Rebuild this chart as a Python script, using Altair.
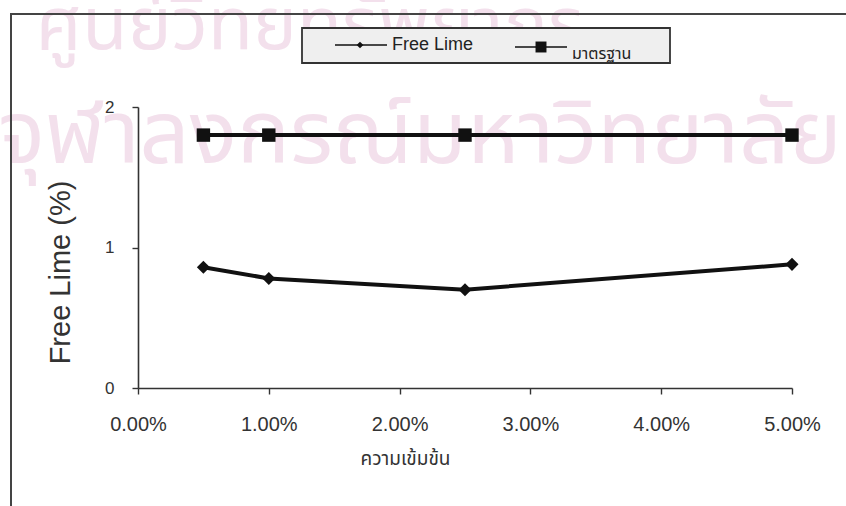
import altair as alt
import pandas as pd

# Concentration (fraction) and measured values
concentration = [0.005, 0.01, 0.025, 0.05]
free_lime = [0.86, 0.78, 0.70, 0.88]
standard = [1.80, 1.80, 1.80, 1.80]
series_names = ["Free Lime", "มาตรฐาน"]
x_ticks = [0.0, 0.01, 0.02, 0.03, 0.04, 0.05]
y_ticks = [0.0, 1.0, 2.0]

THAI = "Noto Sans Thai, Noto Sans Thai UI, Garuda, Loma, Norasi, Tlwg Typo, sans-serif"
SANS = "Liberation Sans, Arial, sans-serif"

df = pd.DataFrame(
    {
        "conc": concentration * 2,
        "value": free_lime + standard,
        "series": [series_names[0]] * len(concentration)
        + [series_names[1]] * len(concentration),
    }
)

W, H = 654, 281

x_scale = alt.Scale(domain=[0, 0.05], nice=False, zero=False)
y_scale = alt.Scale(domain=[0, 2], nice=False)

x_axis = alt.Axis(
    values=x_ticks,
    format=".2%",
    title="ความเข้มข้น",
    titleFont=THAI,
    titleFontSize=19,
    titleX=267,
    titleY=76,
    titleBaseline="alphabetic",
    titleAlign="center",
    labelFontSize=20,
    labelPadding=20,
    labelFlush=False,
)
y_axis = alt.Axis(
    values=y_ticks,
    format=".0f",
    title="Free Lime (%)",
    titleFontSize=29,
    titleAngle=270,
    titleX=-78,
    titleY=165,
    titleAlign="center",
    titleBaseline="middle",
    labelFontSize=17,
    labelPadding=18,
)

base = alt.Chart(df)

lines = base.mark_line(color="#111", strokeWidth=4).encode(
    x=alt.X("conc:Q", scale=x_scale, axis=x_axis),
    y=alt.Y("value:Q", scale=y_scale, axis=y_axis),
    detail="series:N",
)
points = base.mark_point(filled=True, color="#111", opacity=1).encode(
    x=alt.X("conc:Q", scale=x_scale, axis=x_axis),
    y=alt.Y("value:Q", scale=y_scale, axis=y_axis),
    shape=alt.Shape(
        "series:N",
        scale=alt.Scale(domain=series_names, range=["diamond", "square"]),
        legend=None,
    ),
    size=alt.Size(
        "series:N",
        scale=alt.Scale(domain=series_names, range=[170, 180]),
        legend=None,
    ),
)

# Faint library watermark behind the plot
wm_lines = ["ศูนย์วิทยทรัพยากร", "จุฬาลงกรณ์มหาวิทยาลัย"]
wm_df = pd.DataFrame({"t": wm_lines})
wm_top = alt.Chart(wm_df).transform_filter(alt.datum.t == wm_lines[0]).mark_text(
    font=THAI, fontSize=74, color="#f3e0ec", align="center", baseline="alphabetic"
).encode(text="t:N", x=alt.value(172), y=alt.value(-58))
wm_bottom = alt.Chart(wm_df).transform_filter(alt.datum.t == wm_lines[1]).mark_text(
    font=THAI, fontSize=88, color="#f3e0ec", align="center", baseline="alphabetic"
).encode(text="t:N", x=alt.value(282), y=alt.value(56))

# Outer chart frame
frame = alt.Chart(wm_df).transform_filter(alt.datum.t == wm_lines[0]).mark_rect(
    fillOpacity=0, stroke="#444", strokeWidth=2
).encode(x=alt.value(-127), x2=alt.value(740), y=alt.value(-93), y2=alt.value(430))

# Legend box and entries
leg_df = pd.DataFrame({"series": series_names})
leg1 = alt.Chart(leg_df).transform_filter(alt.datum.series == series_names[0])
leg2 = alt.Chart(leg_df).transform_filter(alt.datum.series == series_names[1])

leg_box = leg1.mark_rect(fill="#efefef", stroke="#333", strokeWidth=1.8).encode(
    x=alt.value(164), x2=alt.value(532), y=alt.value(-79), y2=alt.value(-44)
)
leg1_rule = leg1.mark_rule(color="#111", strokeWidth=1.6).encode(
    x=alt.value(197), x2=alt.value(249), y=alt.value(-62)
)
leg1_sym = leg1.mark_point(shape="diamond", filled=True, color="#111", size=45, opacity=1).encode(
    x=alt.value(222), y=alt.value(-62)
)
leg1_txt = leg1.mark_text(
    font=SANS, fontSize=18, color="#222", align="left", baseline="middle"
).encode(text="series:N", x=alt.value(254), y=alt.value(-62))
leg2_rule = leg2.mark_rule(color="#111", strokeWidth=1.6).encode(
    x=alt.value(377), x2=alt.value(429), y=alt.value(-60)
)
leg2_sym = leg2.mark_point(shape="square", filled=True, color="#111", size=120, opacity=1).encode(
    x=alt.value(403), y=alt.value(-60)
)
leg2_txt = leg2.mark_text(
    font=THAI, fontSize=16, color="#222", align="left", baseline="alphabetic"
).encode(text="series:N", x=alt.value(434), y=alt.value(-48))

chart = (
    alt.layer(
        wm_top,
        wm_bottom,
        frame,
        lines,
        points,
        leg_box,
        leg1_rule,
        leg1_sym,
        leg1_txt,
        leg2_rule,
        leg2_sym,
        leg2_txt,
    )
    .properties(
        width=W,
        height=H,
        padding={"left": 138, "top": 107, "right": 54, "bottom": 118},
        autosize="none",
        background="white",
    )
    .configure_view(stroke=None)
    .configure_axis(
        labelFont=SANS,
        labelColor="#333",
        titleFont=SANS,
        titleFontWeight="normal",
        titleColor="#333",
        labelOverlap=False,
        ticks=True,
        tickSize=6,
        tickColor="#333",
        tickWidth=1.4,
        domainColor="#333",
        domainWidth=1.6,
        grid=False,
    )
)

chart.save("out.html", embed_options={"renderer": "svg", "actions": False})
